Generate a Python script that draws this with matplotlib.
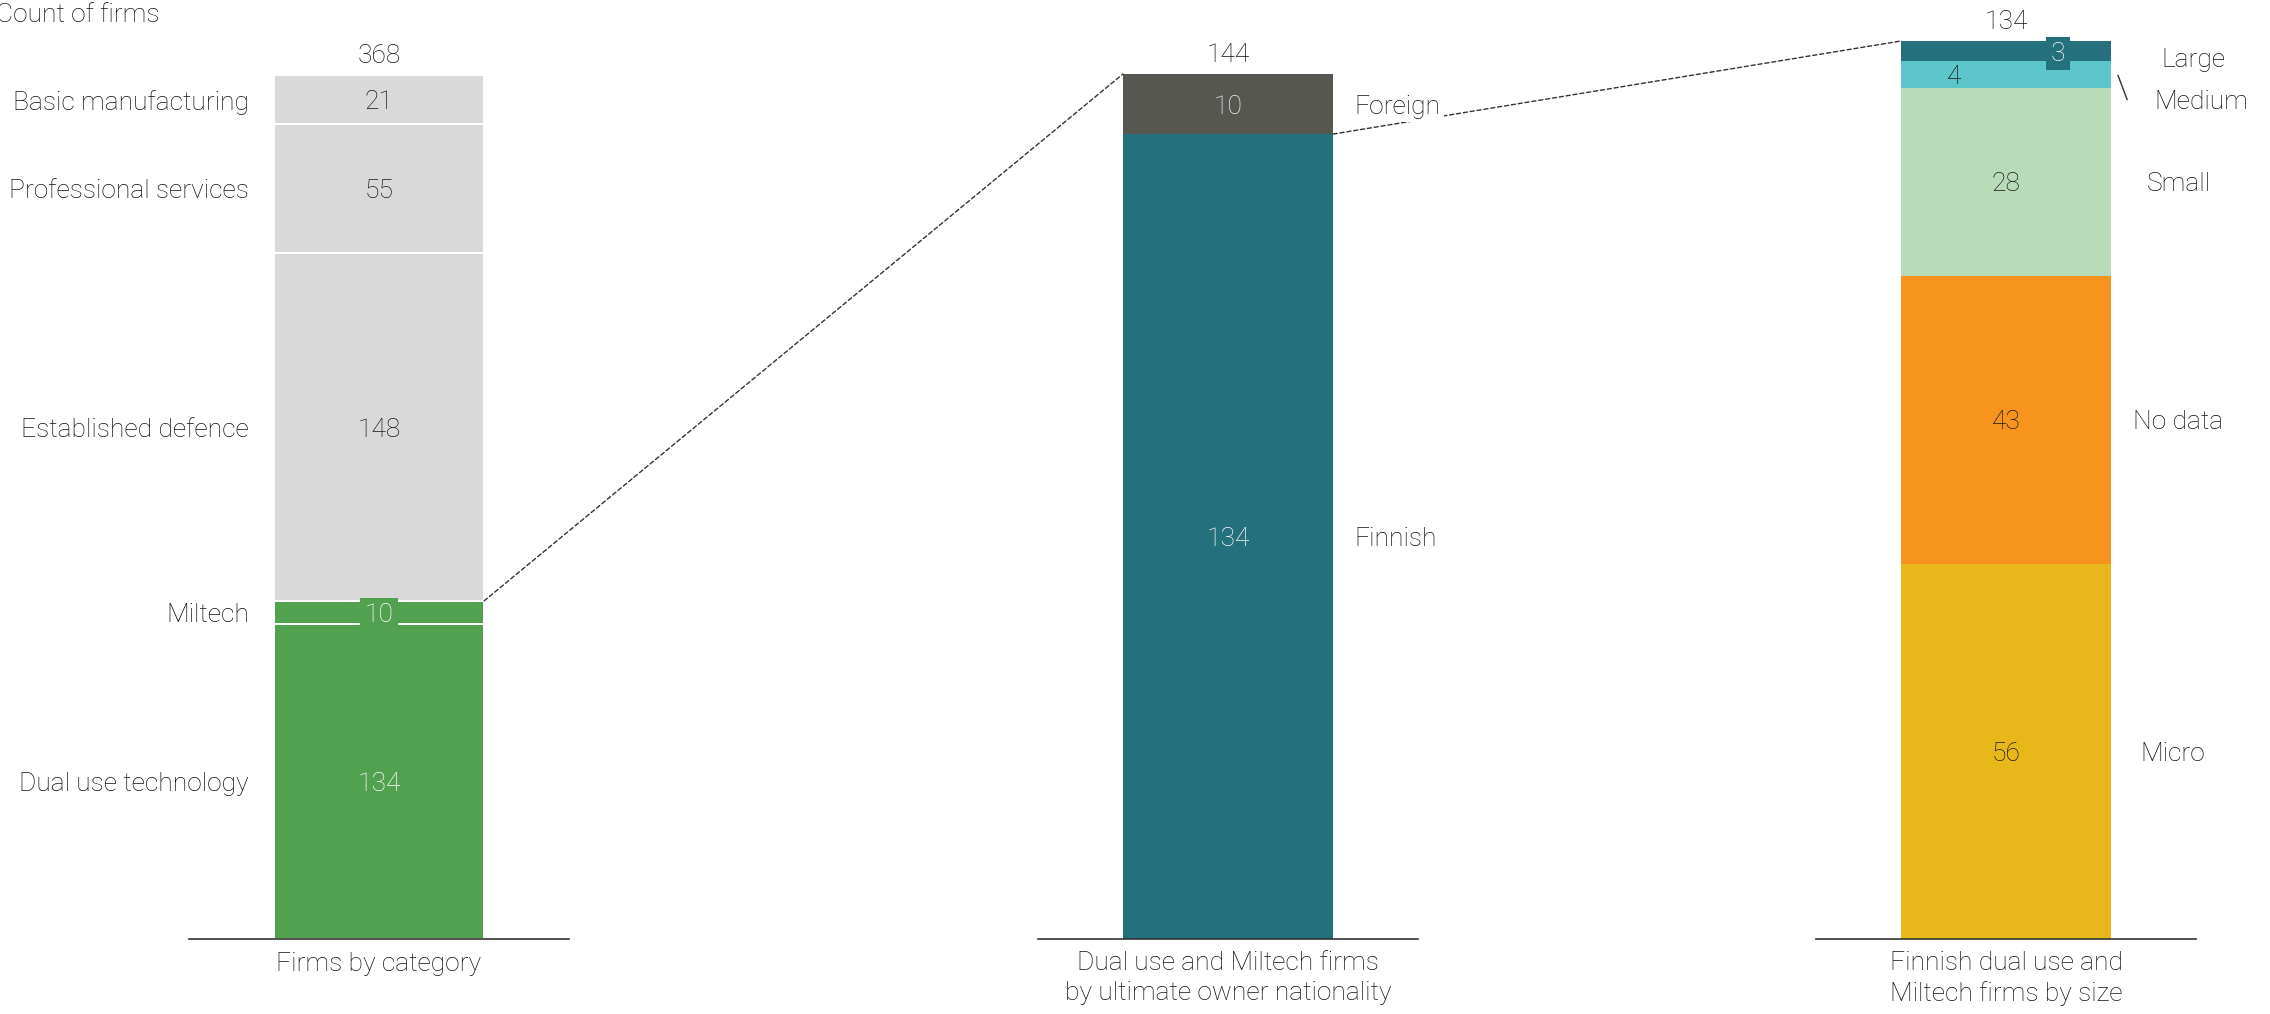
import matplotlib
matplotlib.use('Agg')
import matplotlib.pyplot as plt
from matplotlib.patches import ConnectionPatch
from matplotlib.lines import Line2D
from matplotlib.transforms import offset_copy

# ---------------- data ----------------
cat_labels = ['Dual use technology', 'Miltech', 'Established defence',
              'Professional services', 'Basic manufacturing']
cat_values = [134, 10, 148, 55, 21]

own_labels = ['Finnish', 'Foreign']
own_values = [134, 10]

size_labels = ['Micro', 'No data', 'Small', 'Medium', 'Large']
size_values = [56, 43, 28, 4, 3]

panel_titles = ['Firms by category',
                'Dual use and Miltech firms\nby ultimate owner nationality',
                'Finnish dual use and\nMiltech firms by size']
y_title = 'Count of firms'

# ---------------- style ----------------
cat_colors = ['#52a150', '#52a150', '#d9d9d9', '#d9d9d9', '#d9d9d9']
cat_txt = ['white', 'white', '#1a1a1a', '#1a1a1a', '#1a1a1a']
own_colors = ['#24707c', '#575752']
own_txt = ['white', '#eeeeee']
size_colors = ['#e8b81b', '#f7941e', '#b8dbb8', '#5bc5ca', '#24707c']
size_txt = ['#1a1a1a', '#1a1a1a', '#1a1a1a', '#1a1a1a', 'white']

plt.rcParams['font.family'] = ['Roboto', 'DejaVu Sans']
plt.rcParams['font.weight'] = 'light'
FS = 19
DARK = '#111111'
PX = 0.72  # points per pixel at dpi 100

W, H = 2270, 1014
fig = plt.figure(figsize=(W / 100, H / 100), dpi=100)

bottom_f = (H - 939) / H
height_f = 898 / H
ax_w = 380 / W
lefts = [189 / W, 1038 / W, 1816 / W]
# fraction of the axes height that each bar total reaches
fill = [864 / 898, 865 / 898, 1.0]
bar_w = 0.553

axes = []
for i in range(3):
    ax = fig.add_axes([lefts[i], bottom_f, ax_w, height_f])
    ax.set_xlim(-0.5, 0.5)
    for s in ['top', 'left', 'right']:
        ax.spines[s].set_visible(False)
    ax.spines['bottom'].set_color('#333333')
    ax.spines['bottom'].set_linewidth(1.2)
    ax.set_xticks([])
    ax.set_yticks([])
    ax.patch.set_alpha(0)
    axes.append(ax)

ax1, ax2, ax3 = axes


def stack(ax, idx, values, colors, edge=None):
    bottoms = []
    b = 0
    for v, c in zip(values, colors):
        kw = {}
        if edge:
            kw = dict(edgecolor=edge, linewidth=1.4)
        ax.bar(0, v, bottom=b, width=bar_w, color=c, zorder=1, **kw)
        bottoms.append(b)
        b += v
    ax.set_ylim(0, b / fill[idx])
    return bottoms, b


def total_label(ax, total):
    ax.annotate(str(total), xy=(0, total), xytext=(0, 12 * PX),
                textcoords='offset points', ha='center', va='baseline',
                fontsize=FS, color=DARK, annotation_clip=False)


def title(ax, text):
    ax.annotate(text, xy=(0.5, 0), xycoords='axes fraction',
                xytext=(0, -9), textcoords='offset points',
                ha='center', va='top', fontsize=FS, color=DARK,
                linespacing=1.3, annotation_clip=False)


# ---------- panel 1 ----------
b1, t1 = stack(ax1, 0, cat_values, cat_colors, edge='white')
for i, (lab, v) in enumerate(zip(cat_labels, cat_values)):
    yc = b1[i] + v / 2
    ax1.annotate(lab, xy=(-bar_w / 2, yc), xytext=(-25 * PX, 0),
                 textcoords='offset points', ha='right', va='center_baseline',
                 fontsize=FS, color=DARK, annotation_clip=False)
    kw = {}
    if lab == 'Miltech':
        kw = dict(bbox=dict(boxstyle='square,pad=0.18', fc=cat_colors[i], ec='none'))
    ax1.text(0, yc, str(v), ha='center', va='center_baseline', fontsize=FS,
             color=cat_txt[i], zorder=4, **kw)
total_label(ax1, t1)
title(ax1, panel_titles[0])

# ---------- panel 2 ----------
b2, t2 = stack(ax2, 1, own_values, own_colors)
for i, (lab, v) in enumerate(zip(own_labels, own_values)):
    yc = b2[i] + v / 2
    ax2.annotate(lab, xy=(bar_w / 2, yc), xytext=(21 * PX, 0),
                 textcoords='offset points', ha='left', va='center_baseline',
                 fontsize=FS, color=DARK, annotation_clip=False, zorder=6,
                 bbox=dict(boxstyle='square,pad=0.15', fc='white', ec='none'))
    ax2.text(0, yc, str(v), ha='center', va='center_baseline', fontsize=FS,
             color=own_txt[i], zorder=4)
total_label(ax2, t2)
title(ax2, panel_titles[1])

# ---------- panel 3 ----------
b3, t3 = stack(ax3, 2, size_values, size_colors)
lab_dx = {'Micro': 29, 'No data': 22, 'Small': 36, 'Medium': 43, 'Large': 50}
lab_dy = {'Micro': 0, 'No data': 0, 'Small': 0, 'Medium': -25, 'Large': -6}
val_dx = {'Micro': 0, 'No data': 0, 'Small': 0, 'Medium': -52, 'Large': 52}
for i, (lab, v) in enumerate(zip(size_labels, size_values)):
    yc = b3[i] + v / 2
    ax3.annotate(lab, xy=(bar_w / 2, yc), xytext=(lab_dx[lab] * PX, lab_dy[lab] * PX),
                 textcoords='offset points', ha='left', va='center_baseline',
                 fontsize=FS, color=DARK, annotation_clip=False)
    kw = {}
    if lab == 'Large':
        kw = dict(bbox=dict(boxstyle='square,pad=0.18', fc=size_colors[i], ec='none'))
    ax3.annotate(str(v), xy=(0, yc), xytext=(val_dx[lab] * PX, 0),
                 textcoords='offset points', ha='center', va='center_baseline',
                 fontsize=FS, color=size_txt[i], zorder=4,
                 annotation_clip=False, **kw)
    if lab == 'Medium':
        # short leader line from the thin segment to its label
        p0 = offset_copy(ax3.transData, fig=fig, x=7 * PX, y=-1 * PX, units='points')
        p1 = offset_copy(ax3.transData, fig=fig, x=16 * PX, y=-25 * PX, units='points')
        x0, y0 = p0.transform((bar_w / 2, yc))
        x1, y1 = p1.transform((bar_w / 2, yc))
        fig.add_artist(Line2D([x0 / W, x1 / W], [y0 / H, y1 / H],
                              transform=fig.transFigure, color='#333333', lw=1.0))
total_label(ax3, t3)
title(ax3, panel_titles[2])

# ---------- connectors ----------
dash = (0, (3, 2))
c1 = ConnectionPatch(xyA=(bar_w / 2, cat_values[0] + cat_values[1]), coordsA=ax1.transData,
                     xyB=(-bar_w / 2, t2), coordsB=ax2.transData,
                     color='#333333', lw=1.0, linestyle=dash, zorder=2)
ax1.add_artist(c1)
c2 = ConnectionPatch(xyA=(bar_w / 2, own_values[0]), coordsA=ax2.transData,
                     xyB=(-bar_w / 2, t3), coordsB=ax3.transData,
                     color='#333333', lw=1.0, linestyle=dash, zorder=2)
ax2.add_artist(c2)

fig.text(-4 / W, 1 - 22 / H, y_title, ha='left', va='baseline', fontsize=FS, color=DARK)

fig.savefig('out.png', dpi=100, facecolor='white')
